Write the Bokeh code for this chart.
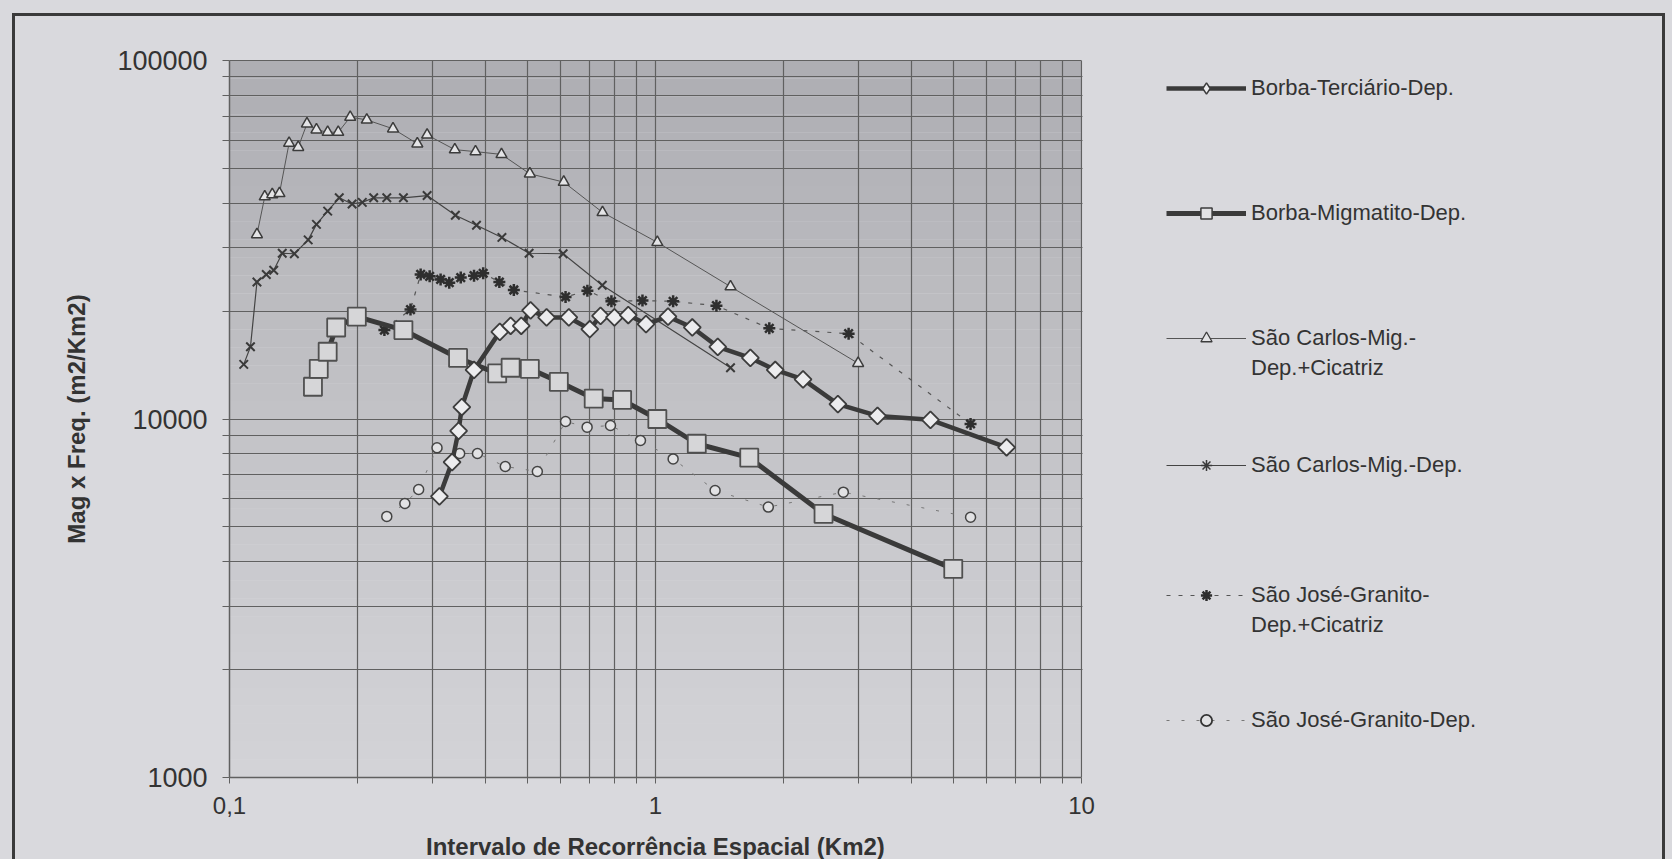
import numpy as np
from bokeh.plotting import figure
from bokeh.models import (FixedTicker, Legend, LegendItem, CustomJSTickFormatter,
                          NumeralTickFormatter, GlobalInlineStyleSheet, LogAxis, Title)
from bokeh.embed import file_html
from bokeh.resources import INLINE

# ---------------- data ----------------
borba_terciario_x = [0.311, 0.333, 0.345, 0.351, 0.375, 0.431, 0.457, 0.484, 0.509, 0.555,
                     0.626, 0.701, 0.743, 0.801, 0.863, 0.950, 1.07, 1.22, 1.40, 1.67,
                     1.91, 2.22, 2.68, 3.32, 4.42, 6.67]
borba_terciario_y = [6080, 7580, 9270, 10800, 13700, 17500, 18200, 18200, 20100, 19200,
                     19200, 17800, 19400, 19200, 19500, 18400, 19300, 18000, 15900, 14800,
                     13700, 12900, 11000, 10200, 9950, 8340]

borba_migmatito_x = [0.157, 0.162, 0.170, 0.178, 0.199, 0.256, 0.344, 0.425, 0.457, 0.507,
                     0.593, 0.716, 0.835, 1.01, 1.25, 1.66, 2.48, 5.00]
borba_migmatito_y = [12300, 13800, 15400, 18000, 19300, 17700, 14800, 13400, 13900, 13800,
                     12700, 11400, 11300, 10000, 8530, 7800, 5440, 3820]

sc_cicatriz_x = [0.116, 0.121, 0.126, 0.131, 0.138, 0.145, 0.152, 0.160, 0.170, 0.180,
                 0.192, 0.210, 0.242, 0.276, 0.291, 0.338, 0.378, 0.435, 0.507, 0.609,
                 0.751, 1.01, 1.50, 2.99]
sc_cicatriz_y = [32700, 41700, 42300, 42600, 58800, 57300, 66600, 64100, 63100, 63100,
                 69500, 68300, 64500, 58600, 62000, 56400, 55700, 54700, 48300, 45800,
                 37700, 31100, 23400, 14300]

sc_dep_x = [0.108, 0.112, 0.116, 0.122, 0.127, 0.133, 0.142, 0.153, 0.160, 0.170,
            0.181, 0.194, 0.205, 0.218, 0.234, 0.256, 0.291, 0.339, 0.380, 0.436,
            0.505, 0.607, 0.750, 1.50]
sc_dep_y = [14200, 15900, 24100, 25300, 26000, 29000, 28900, 31600, 34900, 38000,
            41400, 39800, 40200, 41400, 41400, 41400, 42000, 37000, 34700, 32100,
            29000, 28900, 23600, 13900]

sj_cicatriz_x = [0.231, 0.266, 0.281, 0.295, 0.313, 0.328, 0.349, 0.375, 0.394, 0.430,
                 0.465, 0.615, 0.692, 0.788, 0.932, 1.10, 1.39, 1.85, 2.84, 5.49]
sj_cicatriz_y = [17700, 20200, 25300, 25000, 24500, 24000, 24800, 25100, 25500, 24100,
                 22900, 21900, 22800, 21300, 21400, 21300, 20700, 17900, 17300, 9690]

sj_dep_x = [0.234, 0.258, 0.278, 0.307, 0.347, 0.382, 0.444, 0.528, 0.615, 0.691,
            0.784, 0.922, 1.10, 1.38, 1.84, 2.76, 5.49]
sj_dep_y = [5350, 5810, 6360, 8310, 8010, 8010, 7370, 7140, 9840, 9490,
            9590, 8710, 7740, 6320, 5680, 6250, 5320]

series_labels = [["Borba-Terciário-Dep."],
                 ["Borba-Migmatito-Dep."],
                 ["São Carlos-Mig.-", "Dep.+Cicatriz"],
                 ["São Carlos-Mig.-Dep."],
                 ["São José-Granito-", "Dep.+Cicatriz"],
                 ["São José-Granito-Dep."]]

x_major = [0.1, 1, 10]
x_minor = [m * 10.0 ** e for e in (-1, 0) for m in range(2, 10)]
y_major = [1000, 10000, 100000]
y_minor = [m * 10.0 ** e for e in (3, 4) for m in range(2, 10)]
X_MIN, X_MAX = 0.1, 10
Y_MIN, Y_MAX = 1000, 100000
X_TITLE = "Intervalo de Recorrência Espacial (Km2)"
Y_TITLE = "Mag x Freq. (m2/Km2)"

# ---------------- layout constants (pixels) ----------------
W, H = 1672, 859
LEFT, TOP, BOTTOM = 229, 60, 82
PLOT_W, PLOT_H = 852, 717                   # area spanned by 0.1..10 and 1000..100000
FRAME_W = W - LEFT                          # frame continues under the legend
DECADE = PLOT_W / (np.log10(X_MAX) - np.log10(X_MIN))
X_END = 10 ** (np.log10(X_MIN) + FRAME_W / DECADE)
X_TITLE_W = 459                             # rendered width of the x title (24px bold)

# ---------------- styles ----------------
FONT = "Liberation Sans"
PAGE = "#d9d9dd"
GRID = "#606060"
TXT = "#333333"

page_css = GlobalInlineStyleSheet(css="""
html, body { background-color: #d9d9dd; margin: 0; overflow: hidden; }
body::after { content: ''; position: fixed; left: 12px; top: 13px; width: 1653px;
  height: 900px; border-top: 3px solid #3a3a3a; border-left: 3px solid #3a3a3a;
  border-right: 3px solid #3a3a3a; box-sizing: border-box; pointer-events: none;
  z-index: 10; }
""")

p = figure(x_axis_type="log", y_axis_type="log",
           x_range=(X_MIN, X_END), y_range=(Y_MIN, Y_MAX),
           frame_width=FRAME_W, frame_height=PLOT_H,
           min_border_left=LEFT, min_border_right=0,
           min_border_top=TOP, min_border_bottom=BOTTOM,
           output_backend="svg", toolbar_location=None,
           background_fill_color=PAGE, border_fill_color=PAGE)
p.stylesheets = [page_css]
p.outline_line_color = None

# background gradient of the plotting area (below the grid)
nb = 40
edges = np.logspace(np.log10(Y_MIN), np.log10(Y_MAX), nb + 1)
t = np.linspace(0, 1, nb) ** 1.2
bot = np.array([211, 211, 215])
top = np.array([174, 174, 179])
cols = ["#%02x%02x%02x" % tuple(int(v) for v in (bot + (top - bot) * k)) for k in t]
p.quad(left=X_MIN, right=X_MAX, bottom=edges[:-1], top=edges[1:],
       fill_color=cols, line_color=None, level="image")

# axes / grid
xt = FixedTicker(ticks=x_major, minor_ticks=x_minor)
yt = FixedTicker(ticks=y_major, minor_ticks=y_minor)
p.xaxis.ticker = xt
p.yaxis.ticker = yt
p.xgrid.ticker = xt
p.ygrid.ticker = yt
for g in (p.xgrid, p.ygrid):
    g.grid_line_color = GRID
    g.grid_line_width = 1.2
    g.minor_grid_line_color = GRID
    g.minor_grid_line_width = 1.2
p.xaxis.bounds = (X_MIN, X_MAX)

p.xaxis.formatter = CustomJSTickFormatter(code="return String(tick).replace('.', ',');")
p.yaxis.formatter = NumeralTickFormatter(format="0")
for ax in (p.xaxis, p.yaxis):
    ax.axis_line_color = GRID
    ax.axis_line_width = 1.5
    ax.major_tick_line_color = GRID
    ax.minor_tick_line_color = GRID
    ax.major_tick_in = 0
    ax.minor_tick_in = 0
    ax.major_label_text_font = FONT
    ax.major_label_text_color = TXT
    ax.axis_label_text_font = FONT
    ax.axis_label_text_font_style = "bold"
    ax.axis_label_text_font_size = "24px"
    ax.axis_label_text_color = TXT
p.xaxis.major_tick_out = 6
p.xaxis.minor_tick_out = 6
p.yaxis.major_tick_out = 7
p.yaxis.minor_tick_out = 7
p.xaxis.major_label_text_font_size = "24px"
p.yaxis.major_label_text_font_size = "27px"
p.xaxis.major_label_standoff = 13
p.yaxis.major_label_standoff = 15
p.yaxis.axis_label_standoff = 24
p.yaxis.axis_label = Y_TITLE

# x-axis title, centred under the 0.1..10 span (the frame also holds the legend)
x_title = Title(text=X_TITLE, align="left", vertical_align="top",
                offset=PLOT_W / 2 - X_TITLE_W / 2, standoff=33,
                text_font=FONT, text_font_size="24px", text_font_style="bold",
                text_color=TXT)
p.add_layout(x_title, "below")

# top edge of the plotting area: an unlabelled axis bounded to 0.1..10
top_axis = LogAxis(ticker=FixedTicker(ticks=[]), bounds=(X_MIN, X_MAX),
                   axis_line_color=GRID, axis_line_width=1.2,
                   major_label_text_font_size="0px", major_tick_line_color=None,
                   minor_tick_line_color=None)
p.add_layout(top_axis, "above")

# hide the horizontal grid lines under the legend region
p.quad(left=10 ** (np.log10(X_MAX) + 1.0 / DECADE), right=X_END, bottom=Y_MIN, top=Y_MAX,
       fill_color=PAGE, line_color=None, level="glyph")

# ---------------- series ----------------
styles = {
    "e": (dict(line_color="#3a3a3a", line_width=4.5),
          dict(marker="square", angle=np.pi / 4, size=12, fill_color="#ececee",
               line_color="#3c3c3c", line_width=1.8),
          dict(marker="diamond", size=15, fill_color="#ececee",
               line_color="#3c3c3c", line_width=1.5)),
    "f": (dict(line_color="#3a3a3a", line_width=5),
          dict(marker="square", size=18, fill_color="#d6d6d8",
               line_color="#505050", line_width=1.8),
          dict(marker="square", size=13, fill_color="#e2e2e4",
               line_color="#3c3c3c", line_width=1.5)),
    "a": (dict(line_color="#555555", line_width=1),
          dict(marker="triangle", size=11, fill_color="#e4e4e6",
               line_color="#3c3c3c", line_width=1.5),
          dict(marker="triangle", size=8, fill_color="#e4e4e6",
               line_color="#3c3c3c", line_width=1.3)),
    "b": (dict(line_color="#444444", line_width=1.2),
          dict(marker="x", size=12, line_color="#3a3a3a", line_width=2),
          dict(marker="asterisk", size=9, line_color="#3a3a3a", line_width=1.5)),
    "c": (dict(line_color="#555555", line_width=1.2, line_dash="4 8"),
          dict(marker="asterisk", size=12, line_color="#2e2e2e", line_width=2.5),
          dict(marker="asterisk", size=11, line_color="#2e2e2e", line_width=2.5)),
    "d": (dict(line_color="#777777", line_width=1, line_dash="3 12"),
          dict(marker="circle", size=10, fill_color="#e2e2e4",
               line_color="#444444", line_width=1.5),
          dict(marker="circle", size=9, fill_color="#e2e2e4",
               line_color="#333333", line_width=1.8)),
}
data = {"a": (sc_cicatriz_x, sc_cicatriz_y), "b": (sc_dep_x, sc_dep_y),
        "c": (sj_cicatriz_x, sj_cicatriz_y), "d": (sj_dep_x, sj_dep_y),
        "e": (borba_terciario_x, borba_terciario_y),
        "f": (borba_migmatito_x, borba_migmatito_y)}

rend = {}
for key in ["d", "c", "b", "a", "f", "e"]:
    xs, ys = data[key]
    ls, ms, lms = styles[key]
    rl = p.line(xs, ys, **ls)
    p.scatter(xs, ys, **ms)
    # legend-only marker (same data, hidden in the plot, smaller as in the key)
    rk = p.scatter(xs, ys, visible=False, **lms)
    rend[key] = [rl, rk]

blank = p.line(x=[], y=[], line_alpha=0)

# ---------------- legend (one block per entry, right of the plot area) ----------------
first_line_y = [88, 213, 338, 465, 595, 720]   # canvas px of each entry's first line
LEG_X = 1166
ITEM_H, SPACING = 28, 2
for key, labels, cy in zip(["e", "f", "a", "b", "c", "d"], series_labels, first_line_y):
    items = [LegendItem(label=labels[0], renderers=rend[key])]
    for extra in labels[1:]:
        items.append(LegendItem(label=extra, renderers=[blank]))
    n = len(items)
    height = n * ITEM_H + (n - 1) * SPACING
    bottom_canvas = cy - ITEM_H / 2 + height
    lg = Legend(items=items, location=(LEG_X - LEFT, TOP + PLOT_H - bottom_canvas),
                glyph_width=80, glyph_height=ITEM_H, label_height=ITEM_H,
                label_standoff=5, spacing=SPACING, padding=0, margin=0,
                border_line_alpha=0, background_fill_alpha=0,
                label_text_font=FONT, label_text_font_size="22px",
                label_text_color=TXT)
    p.add_layout(lg)

open("out.html", "w").write(file_html(p, INLINE))
